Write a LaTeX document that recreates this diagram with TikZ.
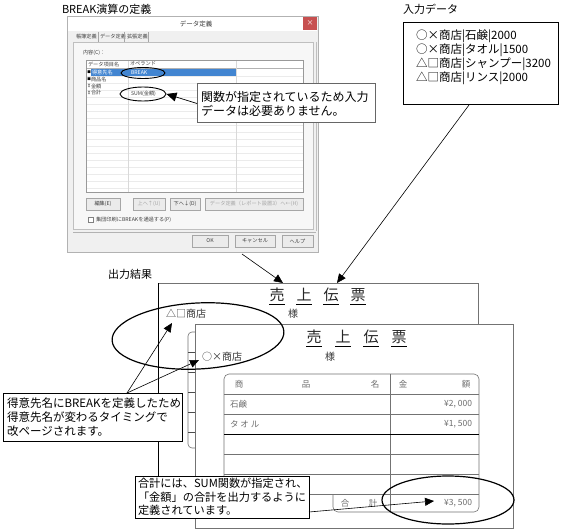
\documentclass[tikz,border=0pt]{standalone}
\usepackage{fontspec}
\setmainfont{Noto Sans CJK JP}
\usetikzlibrary{arrows.meta}
\newcommand\fsz[2]{\fontsize{#1pt}{#2pt}\selectfont}
\definecolor{dlgbg}{RGB}{240,240,240}
\definecolor{selblue}{RGB}{66,133,209}
\definecolor{closered}{RGB}{199,80,80}
\definecolor{rtext}{RGB}{110,110,110}
\begin{document}
\begin{tikzpicture}[x=1pt,y=-1pt,
  every node/.style={inner sep=0pt, outer sep=0pt},
  lbl/.style={font=\fsz{11}{13}},
  tiny/.style={font=\fsz{5.2}{6}, text=black!75},
  tinyg/.style={font=\fsz{5.2}{6}, text=black!35},
  btn/.style={draw=black!35, fill=black!8, line width=0.4pt},
  callout/.style={draw=black, fill=white, line width=0.8pt, anchor=north west,
     align=left, font=\fsz{11.5}{14}, inner xsep=4pt},
  arr/.style={line width=0.6pt, -{Triangle[length=9pt,width=8pt]}},
  ring/.style={draw=black, line width=1.2pt},
  rtxt/.style={font=\fsz{8.5}{9}, text=rtext},
  ttl/.style={font=\fsz{15}{16}, text=black!85},
  sheet/.style={draw=black!55, fill=white, line width=0.6pt}
]
\useasboundingbox (0,0) rectangle (562,532);

% ---------- titles ----------
\node[lbl, anchor=west] (tdef) at (62,9) {BREAK演算の定義};
\node[lbl, anchor=west] (tin) at (403,9) {入力データ};
\node[lbl, anchor=west] (tout) at (108,274) {出力結果};

% ---------- dialog ----------
\fill[dlgbg] (67,16) rectangle (318,252);
\draw[black!30] (67,16) rectangle (318,252);
\fill[white] (68,17) rectangle (317,31);
\node[font=\fsz{6.5}{7}, text=black!80] (dtitle) at (196,24) {データ定義};
\fill[closered] (303,17) rectangle (317,30);
\node[font=\fsz{7}{8}, text=white] (dclose) at (310,23.5) {×};
% tabs
\node[tiny, anchor=west] (tab1) at (76,37) {帳簿定義};
\node[tiny, anchor=west] (tab2) at (100,37) {データ定義};
\node[tiny, anchor=west] (tab3) at (127,37) {拡張定義};
\draw[black!35, line width=0.4pt] (98,32) -- (98,42) (124,32) -- (124,42) (148,32) -- (148,42);
% panel
\fill[white!97!black] (73,42) rectangle (313,229);
\draw[black!25, line width=0.4pt] (73,42) rectangle (313,229);
\draw[black!25, line width=0.4pt] (316,42) -- (316,231);
\draw[black!30, line width=0.4pt] (73,232) -- (316,232);
\node[tiny, anchor=west] (cont) at (83,53) {内容(C)：};
% list
\fill[white] (86,60) rectangle (303,192);
\foreach \yy in {76,83,...,190} \draw[black!8, line width=0.3pt] (86,\yy) -- (303,\yy);
\draw[black!30, line width=0.4pt] (86,68) -- (303,68);
\draw[black!15, line width=0.4pt] (128,60) -- (128,192) (236,60) -- (236,192);
\draw[black!40, line width=0.4pt] (86,60) rectangle (303,192);
\node[tiny, anchor=west] (h1) at (88,64) {データ項目名};
\node[tiny, anchor=west] (h2) at (130,64) {オペランド};
\fill[selblue] (91,69) rectangle (236,76.5);
\node[tiny, anchor=west, text=white] (r1) at (92,73) {得意先名};
\node[tiny, anchor=west, text=white] (r1b) at (131,73) {BREAK};
\node[tiny, anchor=west] (r2) at (91,80) {商品名};
\node[tiny, anchor=west] (r3) at (91,87) {金額};
\node[tiny, anchor=west] (r4) at (91,93) {合計};
\node[font=\fsz{3.5}{4}] (i1) at (89,72) {■};
\node[font=\fsz{3.5}{4}] (i2) at (89,79) {■};
\node[font=\fsz{4.5}{5}] (i3) at (89,86) {‡};
\node[font=\fsz{4.5}{5}] (i4) at (89,92.5) {‡};
\node[tiny, anchor=west] (r4b) at (131,94) {SUM(金額)};
% buttons
\draw[btn] (86,198) rectangle (120,210);
\node[tiny] (b1) at (103,204) {編集(E)};
\draw[btn] (133,198) rectangle (165,210);
\node[tinyg] (b2) at (149,204) {上へ↑(U)};
\draw[btn] (170,198) rectangle (200,210);
\node[tiny] (b3) at (185,204) {下へ↓(D)};
\draw[btn] (205,198) rectangle (303,210);
\node[tinyg] (b4) at (254,204) {データ定義（レポート設置3）へ←(H)};
\draw[black!50, line width=0.4pt, fill=white] (88,217.5) rectangle (93,222.5);
\node[tiny, anchor=west] (chk) at (96,220) {集団印刷にBREAKを通過する(P)};
\draw[btn] (192,235) rectangle (228,247);
\node[tiny] (ok) at (210,241) {OK};
\draw[btn] (235,235) rectangle (275,247);
\node[tiny] (cancel) at (255,241) {キャンセル};
\draw[btn] (282,235) rectangle (313,247);
\node[tiny] (help) at (297.5,241) {ヘルプ};
% small rings
\draw[ring, line width=0.9pt] (143,73) ellipse [x radius=22, y radius=5.5];
\draw[ring, line width=0.9pt] (143,94) ellipse [x radius=23, y radius=7];
\coordinate (sumr) at (166.5,94);

% ---------- input data ----------
\node[draw=black, line width=0.8pt, minimum width=155pt, minimum height=82pt, anchor=north west] (inbox) at (403,22) {};
\node[font=\fsz{11.5}{12.3}, anchor=north west, align=left] (intext) at (416,30)
 {○×商店|石鹸|2000\\○×商店|タオル|1500\\△□商店|シャンプー|3200\\△□商店|リンス|2000};

% ---------- receipts ----------
\draw[sheet] (158,283) rectangle (478,500);
\draw[black, line width=0.8pt] (158,283) -- (158,500);
\foreach \xx/\ch [count=\i] in {277/売,304/上,331/伝,358/票} {
  \node[ttl] (bt\i) at (\xx,295) {\ch};
  \draw[line width=0.6pt] (\xx-8,304) -- (\xx+8,304);
}
\node[font=\fsz{10}{11}, text=black!80, anchor=west] (shopA) at (166,314) {△□商店};
\node[font=\fsz{10}{11}, text=black!80] (samaA) at (293,314) {様};
\coordinate (shopAp) at (172,323);

\draw[sheet] (195,324) rectangle (513,528);
\draw[black!55, line width=0.6pt, rounded corners=4pt] (195,332) -- (188,332) -- (188,448) -- (195,448);
\foreach \yy in {352,372,392,412,432} \draw[black!70, line width=0.7pt] (188,\yy) -- (195,\yy);
\foreach \xx/\ch [count=\i] in {314/売,343/上,371/伝,399/票} {
  \node[ttl] (ft\i) at (\xx,337) {\ch};
  \draw[line width=0.6pt] (\xx-8,346) -- (\xx+8,346);
}
\node[font=\fsz{10}{11}, text=black!80, anchor=west] (shopB) at (202,357) {○×商店};
\node[font=\fsz{10}{11}, text=black!80] (samaB) at (330,357) {様};
\coordinate (shopBp) at (199,360);

% table
\draw[black!55, line width=0.6pt, rounded corners=5pt]
  (224,494) -- (224,374) -- (479,374) -- (479,512) -- (333,512) -- (333,494);
\draw[black!55, line width=0.5pt] (390,374) -- (390,512);
\foreach \yy in {394,414,454,474,494} \draw[black!55, line width=0.5pt] (224,\yy) -- (479,\yy);
\draw[black, line width=0.9pt] (224,434) -- (479,434);
\node[rtxt] (th1) at (239,384) {商};
\node[rtxt] (th2) at (306,384) {品};
\node[rtxt] (th3) at (375,384) {名};
\node[rtxt] (th4) at (403,384) {金};
\node[rtxt] (th5) at (466,384) {額};
\node[rtxt, anchor=west] (c11) at (230,404) {石鹸};
\node[rtxt, anchor=east] (c12) at (472,404) {¥2, 000};
\node[rtxt, anchor=west] (c21) at (230,424) {タ オ ル};
\node[rtxt, anchor=east] (c22) at (472,424) {¥1, 500};
\node[rtxt] (g1) at (345,503) {合};
\node[rtxt] (g2) at (373,503) {計};
\node[rtxt, anchor=east] (g3) at (472,503) {¥3, 500};
\coordinate (totp) at (434,501);

% ---------- big rings ----------
\draw[ring] (198,336) ellipse [x radius=86, y radius=33, rotate=3];
\draw[ring] (448,500) ellipse [x radius=66, y radius=24];

% ---------- callouts ----------
\node[callout, draw=black!60, line width=1pt, font=\fsz{12}{14}, minimum width=178pt, minimum height=39pt, text width=170pt] (c1) at (197,84)
  {関数が指定されているため入力\\データは必要ありません。};
\node[callout, minimum width=179pt, minimum height=48pt, text width=171pt] (c2) at (3,393)
  {得意先名にBREAKを定義したため\\得意先名が変わるタイミングで\\改ページされます。};
\node[callout, font=\fsz{11.2}{13.3}, minimum width=174pt, minimum height=42pt, text width=168pt, inner xsep=3pt] (c3) at (135,476)
  {合計には、SUM関数が指定され、\\「金額」の合計を出力するように\\定義されています。};

% ---------- connectors ----------
\draw[line width=0.7pt, -{Triangle[length=10pt,width=9pt]}] (c1.west) -- (sumr);
\coordinate (c2top) at (127,393);
\draw[arr] (c2top) -- (shopAp);
\draw[arr] (c2top) -- (shopBp);
\coordinate (c3out) at (309,512);
\draw[arr] (c3out) -- (totp);
\coordinate (dlgout) at (242,254);
\coordinate (recA) at (283,283);
\draw[arr] (dlgout) -- (recA);
\coordinate (inout) at (469,105);
\coordinate (recB) at (337,283);
\draw[arr] (inout) -- (recB);
\end{tikzpicture}
\end{document}
